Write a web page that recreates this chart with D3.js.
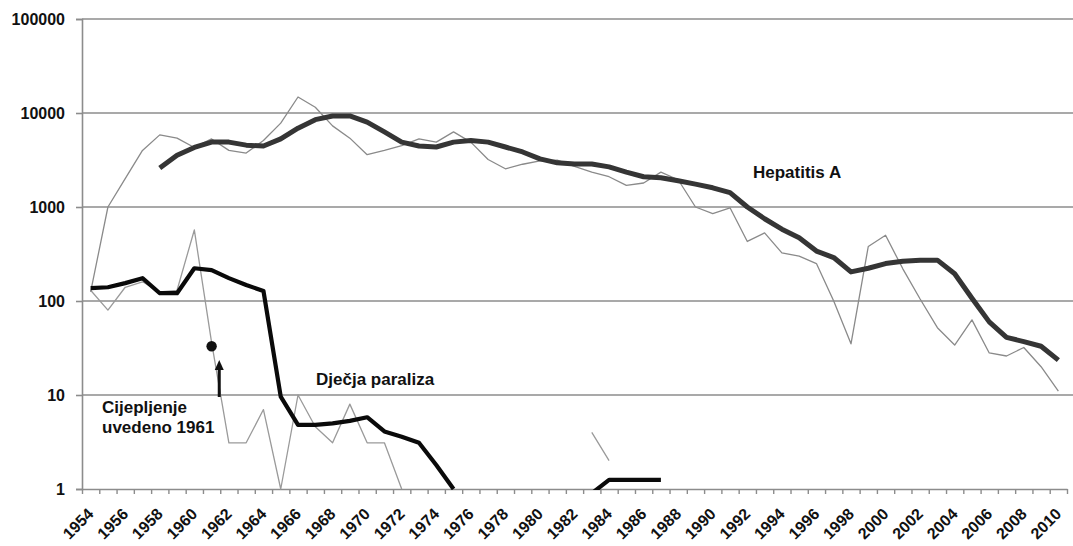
<!DOCTYPE html>
<html>
<head>
<meta charset="utf-8">
<script src="https://cdn.jsdelivr.net/npm/d3@7"></script>
<style>
  html, body { margin: 0; padding: 0; background: #fff; }
  svg { display: block; font-family: Arial, "Liberation Sans", sans-serif; }
</style>
</head>
<body>
<svg id="chart" width="1073" height="546"></svg>
<script>
// Years on the category axis
const years = d3.range(1954, 2011);

// Hepatitis A – annual cases
const hepAnnual = [
  125, 1000, 2000, 4000, 5850, 5400, 4300, 5300, 4000, 3750,
  5100, 7800, 14800, 11500, 7300, 5400, 3600, 4000, 4500, 5300,
  4900, 6300, 4900, 3200, 2550, 2850, 3100, 3150, 2700, 2350,
  2100, 1700, 1800, 2350, 1950, 1000, 850, 980, 430, 530,
  325, 300, 250, 100, 35, 380, 500, 220, 105, 52,
  34, 63, 28, 26, 32, 20, 11
];

// Hepatitis A – moving average (starts in 1958)
const hepAverage = [
  null, null, null, null, 2600, 3550, 4300, 4900, 4900, 4550,
  4450, 5300, 6900, 8500, 9300, 9300, 8000, 6300, 4900, 4450,
  4350, 4900, 5100, 4900, 4350, 3850, 3250, 2950, 2870, 2870,
  2670, 2350, 2100, 2050, 1900, 1750, 1600, 1420, 1000, 750,
  580, 470, 340, 290, 204, 223, 250, 265, 272, 272,
  195, 107, 60, 41, 37, 33, 23.5
];

// Poliomyelitis – annual cases (null = no cases)
const polioAnnual = [
  130, 80, 140, 160, 125, 130, 570, 36, 3.1, 3.1,
  7, 1, 10, 4.6, 3.1, 8, 3.1, 3.1, 1, null,
  null, null, null, null, null, null, null, null, null, 4,
  2, null, null, null, null, null, null, null, null, null,
  null, null, null, null, null, null, null, null, null, null,
  null, null, null, null, null, null, null
];

// Poliomyelitis – moving average (values below 1 fall under the axis)
const polioAverage = [
  137, 140, 155, 175, 121, 121, 223, 213, 175, 148,
  128, 9.6, 4.8, 4.8, 5.0, 5.3, 5.8, 4.1, 3.6, 3.1,
  1.8, 1.0, null, null, null, null, null, null, null, 0.9,
  1.25, 1.25, 1.25, 1.25, null, null, null, null, null, null,
  null, null, null, null, null, null, null, null, null, null,
  null, null, null, null, null, null, null
];

// Axis tick values
const yTicks = [1, 10, 100, 1000, 10000, 100000];
const xLabelYears = years.filter(yr => yr % 2 === 0);

// Vaccination marker
const vaccineYear = 1961;
const vaccineCases = 33;

const svg = d3.select("#chart");
const plotLeft = 82, plotRight = 1067, plotTop = 19, plotBottom = 489;

const x = d3.scaleBand().domain(years).range([plotLeft, plotRight]).paddingInner(0).paddingOuter(0);
const cx = yr => x(yr) + x.bandwidth() / 2;
const xIdx = d3.scaleLinear().domain([0, years.length]).range([plotLeft, plotRight]);
const y = d3.scaleLog().domain([1, 100000]).range([plotBottom, plotTop]);

const gridColor = "#8c8c8c";

svg.append("defs").append("clipPath").attr("id", "plot-clip")
  .append("rect")
  .attr("x", plotLeft).attr("y", 0)
  .attr("width", 1073 - plotLeft).attr("height", plotBottom + 1);

// Horizontal gridlines
svg.append("g")
  .selectAll("line")
  .data(yTicks.filter(v => v > 1))
  .join("line")
  .attr("x1", plotLeft).attr("x2", 1073)
  .attr("y1", d => y(d)).attr("y2", d => y(d))
  .attr("stroke", gridColor).attr("stroke-width", 1.6);

// Y axis
const yAxis = svg.append("g")
  .attr("transform", `translate(${plotLeft},0)`)
  .call(d3.axisLeft(y).tickValues(yTicks).tickFormat(d3.format("d")).tickSize(6).tickPadding(11));
yAxis.select(".domain").attr("stroke", gridColor).attr("stroke-width", 1.6);
yAxis.selectAll(".tick line").attr("stroke", gridColor).attr("stroke-width", 1.6);
yAxis.selectAll(".tick text")
  .attr("font-size", 16).attr("font-weight", "bold").attr("fill", "#111")
  .attr("font-family", "Arial, 'Liberation Sans', sans-serif");

// X axis line and ticks at category boundaries
const xAxis = svg.append("g")
  .attr("transform", `translate(0,${plotBottom})`)
  .call(d3.axisBottom(xIdx).tickValues(d3.range(years.length + 1)).tickFormat("").tickSize(5).tickSizeOuter(0));
xAxis.select(".domain").attr("stroke", gridColor).attr("stroke-width", 1.6);
xAxis.selectAll(".tick line").attr("stroke", gridColor).attr("stroke-width", 1.4);

// Rotated year labels
svg.append("g")
  .selectAll("text")
  .data(xLabelYears)
  .join("text")
  .attr("transform", d => `translate(${cx(d) + 4},${plotBottom + 26}) rotate(-45)`)
  .attr("text-anchor", "end")
  .attr("font-size", 16)
  .attr("font-weight", "bold")
  .attr("fill", "#111")
  .text(d => d);

const series = svg.append("g").attr("clip-path", "url(#plot-clip)");

function drawSeries(values, color, width) {
  const line = d3.line()
    .defined(d => d[1] != null)
    .x(d => cx(d[0]))
    .y(d => y(d[1]));
  series.append("path")
    .datum(years.map((yr, i) => [yr, values[i]]))
    .attr("fill", "none")
    .attr("stroke", color)
    .attr("stroke-width", width)
    .attr("stroke-linejoin", "round")
    .attr("stroke-linecap", "butt")
    .attr("d", line);
}

drawSeries(polioAnnual, "#9a9a9a", 1.3);
drawSeries(hepAnnual, "#8a8a8a", 1.3);
drawSeries(hepAverage, "#353535", 5);
drawSeries(polioAverage, "#0a0a0a", 4.2);

// Vaccination marker: dot and arrow
svg.append("circle")
  .attr("cx", cx(vaccineYear))
  .attr("cy", y(vaccineCases))
  .attr("r", 5.2)
  .attr("fill", "#111");

const ax = x(vaccineYear + 1) - 1;
svg.append("line")
  .attr("x1", ax).attr("x2", ax)
  .attr("y1", 397).attr("y2", 367)
  .attr("stroke", "#111").attr("stroke-width", 3);
svg.append("path")
  .attr("d", `M${ax},360 L${ax - 4.5},370 L${ax + 4.5},370 Z`)
  .attr("fill", "#111");

// Series and annotation labels
const labels = [
  { text: "Hepatitis A", x: 753, y: 178 },
  { text: "Dječja paraliza", x: 316, y: 385 },
  { text: "Cijepljenje", x: 102, y: 412.5 },
  { text: "uvedeno 1961", x: 102, y: 433 }
];
svg.append("g")
  .selectAll("text")
  .data(labels)
  .join("text")
  .attr("x", d => d.x)
  .attr("y", d => d.y)
  .attr("font-size", 17)
  .attr("font-weight", "bold")
  .attr("fill", "#111")
  .text(d => d.text);
</script>
</body>
</html>
